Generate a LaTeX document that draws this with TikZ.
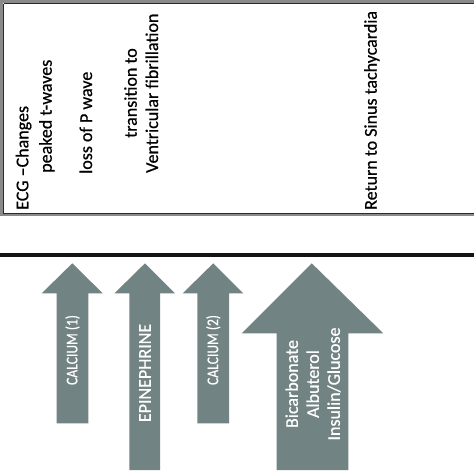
\documentclass[tikz,border=0pt]{standalone}
\usepackage{fontspec}
\setmainfont{Carlito}[FakeBold=0.6]
\newfontfamily\boldish{Carlito}[FakeBold=0.6]
\definecolor{arrowgray}{HTML}{728383}
\definecolor{framegray}{HTML}{8A8A8A}
\definecolor{framedark}{HTML}{2A2A2A}
\begin{document}
\begin{tikzpicture}[x=1pt,y=-1pt,
  ecg/.style={rotate=90, anchor=base west, inner sep=0pt, font=\boldish\fontsize{18}{21}\selectfont},
  ecgc/.style={rotate=90, anchor=base, inner sep=0pt, font=\boldish\fontsize{18}{21}\selectfont},
  arrowbody/.style={fill=arrowgray, draw=none},
  arrowtext/.style={rotate=90, text=white, inner sep=0pt, align=center, font=\boldish\fontsize{18}{21}\selectfont},
  smalltext/.style={arrowtext, font=\boldish\fontsize{13.6}{16}\selectfont},
]
\useasboundingbox (0,0) rectangle (474,474);
\fill[white] (0,0) rectangle (474,474);

% ECG box
\draw[framegray, line width=3] (1.5,1.5) rectangle (480,214.5);
\draw[framedark, line width=0.9] (3.5,3.5) -- (480,3.5);
\draw[framedark, line width=0.9] (3.5,3.5) -- (3.5,213) -- (480,213);

% ECG texts
\node[ecg] (ecg) at (28.3,210) {ECG –Changes};
\node[ecg] (peaked) at (51.7,173) {peaked t-waves};
\node[ecg] (lossp) at (92,174) {loss of P wave};
\node[ecgc] (trans) at (136.7,93) {transition to};
\node[ecg] (vfib) at (158,173) {Ventricular fibrillation};
\node[ecg] (sinus) at (376.7,210) {Return to Sinus tachycardia};

% timeline
\draw[black!92, line width=4] (0,255) -- (474,255);

% arrows
\fill[arrowbody] (56.7,423.3) -- (56.7,293.3) -- (41.7,293.3) -- (72.3,263.3) -- (102.7,293.3) -- (88.3,293.3) -- (88.3,423.3) -- cycle;
\fill[arrowbody] (129.3,470) -- (129.3,293.3) -- (114.5,293.3) -- (145,263.3) -- (175,293.3) -- (160,293.3) -- (160,470) -- cycle;
\fill[arrowbody] (197.3,423.3) -- (197.3,293.3) -- (182.7,293.3) -- (213.3,263.3) -- (243.3,293.3) -- (229,293.3) -- (229,423.3) -- cycle;
\fill[arrowbody] (276.7,470) -- (276.7,333.3) -- (241.7,333.3) -- (311.7,263.3) -- (383.3,333.3) -- (348.3,333.3) -- (348.3,470) -- cycle;

% arrow labels
\node[smalltext] (ca1) at (72.5,350) {\scalebox{1}[1.2]{CALCIUM (1)}};
\node[arrowtext] (epi) at (145,373) {EPINEPHRINE};
\node[smalltext] (ca2) at (213.3,350) {\scalebox{1}[1.2]{CALCIUM (2)}};
\node[arrowtext] (bic) at (313,384) {Bicarbonate\\Albuterol\\Insulin/Glucose};
\end{tikzpicture}
\end{document}
